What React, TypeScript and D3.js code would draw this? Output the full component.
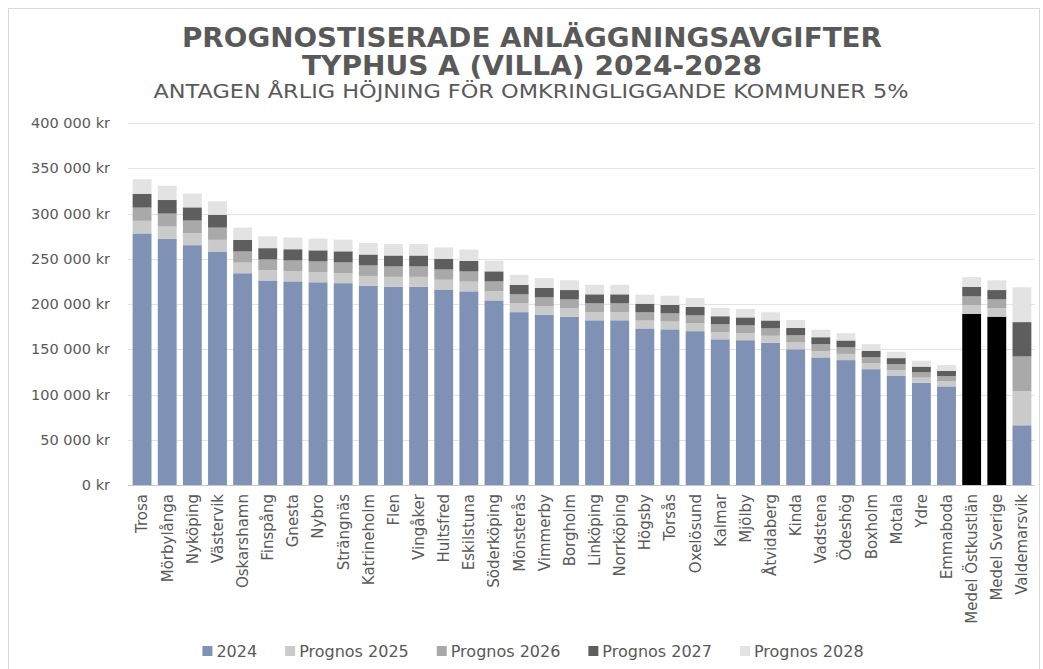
import React, { useEffect, useRef } from 'react';
import * as d3 from 'd3';

// Kommuner, sorted as in the source chart
const categories = [
  'Trosa', 'Mörbylånga', 'Nyköping', 'Västervik', 'Oskarshamn', 'Finspång', 'Gnesta', 'Nybro',
  'Strängnäs', 'Katrineholm', 'Flen', 'Vingåker', 'Hultsfred', 'Eskilstuna', 'Söderköping',
  'Mönsterås', 'Vimmerby', 'Borgholm', 'Linköping', 'Norrköping', 'Högsby', 'Torsås', 'Oxelösund',
  'Kalmar', 'Mjölby', 'Åtvidaberg', 'Kinda', 'Vadstena', 'Ödeshög', 'Boxholm', 'Motala', 'Ydre',
  'Emmaboda', 'Medel Östkustlän', 'Medel Sverige', 'Valdemarsvik'
];

const averageCategories = ['Medel Östkustlän', 'Medel Sverige'];

// stacked segment values (kr)
const values2024 = [
  278000, 272000, 265000, 258000, 234000, 226000, 225000, 224000,
  223000, 220000, 219000, 219000, 216000, 214000, 204000,
  191000, 188000, 186000, 182000, 182000, 173000, 172000, 170000,
  161000, 160000, 157000, 150000, 141000, 138000, 128000, 121000, 113000,
  109000, 189000, 186000, 66000
];
const prognos2025 = [
  13900, 13600, 13300, 12900, 11700, 11300, 11300, 11200,
  11200, 11000, 11000, 11000, 10800, 10700, 10200,
  9600, 9400, 9300, 9100, 9100, 8700, 8600, 8500,
  8100, 8000, 7900, 7500, 7100, 6900, 6400, 6100, 5700,
  5500, 9500, 9300, 37500
];
const prognos2026 = [
  14600, 14300, 13900, 13500, 12300, 11900, 11800, 11800,
  11700, 11600, 11500, 11500, 11300, 11200, 10700,
  10000, 9900, 9800, 9600, 9600, 9100, 9000, 8900,
  8500, 8400, 8200, 7900, 7400, 7200, 6700, 6400, 5900,
  5700, 9900, 9800, 38500
];
const prognos2027 = [
  15300, 15000, 14600, 14200, 12900, 12500, 12400, 12300,
  12300, 12100, 12100, 12100, 11900, 11800, 11200,
  10500, 10400, 10300, 10000, 10000, 9500, 9500, 9400,
  8900, 8800, 8700, 8300, 7800, 7600, 7100, 6700, 6200,
  6000, 10400, 10300, 38000
];
const prognos2028 = [
  16100, 15700, 15300, 14900, 13500, 13100, 13000, 13000,
  12900, 12700, 12700, 12700, 12500, 12400, 11800,
  11100, 10900, 10800, 10500, 10500, 10000, 10000, 9800,
  9300, 9300, 9100, 8700, 8200, 8000, 7400, 7000, 6500,
  6300, 10900, 10800, 38500
];

const seriesNames = ['2024', 'Prognos 2025', 'Prognos 2026', 'Prognos 2027', 'Prognos 2028'];
const seriesColors = ['#7F92B6', '#CACACA', '#A9A9A9', '#5E5E5E', '#E3E3E3'];
const averageColor = '#000000';

const yTicks = [0, 50000, 100000, 150000, 200000, 250000, 300000, 350000, 400000];

const titleLines = ['PROGNOSTISERADE ANLÄGGNINGSAVGIFTER', 'TYPHUS A (VILLA) 2024-2028'];
const subtitle = 'ANTAGEN ÅRLIG HÖJNING FÖR OMKRINGLIGGANDE KOMMUNER 5%';

const W = 1043;
const H = 669;
const FONT = "'DejaVu Sans', Verdana, sans-serif";
const TEXT = '#595959';

const formatKr = (v: number) => d3.format(',')(v).replace(/,/g, ' ') + ' kr';

export default function App() {
  const svgRef = useRef<SVGSVGElement>(null);

  useEffect(() => {
    const svg = d3.select(svgRef.current);
    svg.selectAll('*').remove();

    const rows = categories.map((c, i) => ({
      category: c,
      '2024': values2024[i],
      'Prognos 2025': prognos2025[i],
      'Prognos 2026': prognos2026[i],
      'Prognos 2027': prognos2027[i],
      'Prognos 2028': prognos2028[i]
    }));

    const stacked = d3.stack<any>().keys(seriesNames)(rows);

    const x = d3.scaleBand()
      .domain(categories)
      .range([129.5, 1034.5])
      .paddingInner(0.25)
      .paddingOuter(0.125);

    const y = d3.scaleLinear().domain([0, 400000]).range([485, 123]);

    svg.append('rect')
      .attr('x', 0).attr('y', 0).attr('width', W).attr('height', H)
      .attr('fill', '#fff');

    // chart frame
    svg.append('rect')
      .attr('x', 8.5).attr('y', 8.5).attr('width', W - 12).attr('height', H)
      .attr('fill', 'none')
      .attr('stroke', '#D9D9D9');

    // titles
    const cx = 532;
    svg.append('text')
      .attr('x', cx).attr('y', 47)
      .attr('text-anchor', 'middle')
      .attr('font-weight', 'bold')
      .attr('font-size', 27)
      .attr('fill', TEXT)
      .attr('textLength', 700)
      .attr('lengthAdjust', 'spacingAndGlyphs')
      .text(titleLines[0]);
    svg.append('text')
      .attr('x', cx).attr('y', 75)
      .attr('text-anchor', 'middle')
      .attr('font-weight', 'bold')
      .attr('font-size', 27)
      .attr('fill', TEXT)
      .attr('textLength', 460)
      .attr('lengthAdjust', 'spacingAndGlyphs')
      .text(titleLines[1]);
    svg.append('text')
      .attr('x', cx - 1).attr('y', 98)
      .attr('text-anchor', 'middle')
      .attr('font-size', 19)
      .attr('fill', TEXT)
      .attr('textLength', 755)
      .attr('lengthAdjust', 'spacingAndGlyphs')
      .text(subtitle);

    // gridlines
    svg.append('g')
      .selectAll('line')
      .data(yTicks.filter(t => t > 0))
      .join('line')
      .attr('x1', 128).attr('x2', 1035)
      .attr('y1', d => Math.round(y(d)) + 0.5)
      .attr('y2', d => Math.round(y(d)) + 0.5)
      .attr('stroke', '#E3E3E3')
      .attr('stroke-width', 1.2);

    // y labels
    svg.append('g')
      .selectAll('text')
      .data(yTicks)
      .join('text')
      .attr('x', 110)
      .attr('y', d => y(d))
      .attr('dy', '0.36em')
      .attr('text-anchor', 'end')
      .attr('font-size', 14.5)
      .attr('fill', TEXT)
      .text(d => formatKr(d));

    // bars
    const layers = svg.append('g')
      .selectAll('g')
      .data(stacked)
      .join('g');

    layers.selectAll('rect')
      .data((layer: any) => layer.map((d: any) => ({ d, key: layer.key })))
      .join('rect')
      .attr('x', (p: any) => x(p.d.data.category)!)
      .attr('width', x.bandwidth())
      .attr('y', (p: any) => y(p.d[1]))
      .attr('height', (p: any) => y(p.d[0]) - y(p.d[1]))
      .attr('fill', (p: any) => {
        if (p.key === '2024' && averageCategories.includes(p.d.data.category)) return averageColor;
        return seriesColors[seriesNames.indexOf(p.key)];
      });

    // x axis line
    svg.append('line')
      .attr('x1', 128).attr('x2', 1035)
      .attr('y1', 485.5).attr('y2', 485.5)
      .attr('stroke', '#C8C8C8')
      .attr('stroke-width', 1.2);

    // x labels
    svg.append('g')
      .selectAll('text')
      .data(categories)
      .join('text')
      .attr('transform', d => `translate(${x(d)! + x.bandwidth() / 2},494) rotate(-90)`)
      .attr('dy', '0.36em')
      .attr('text-anchor', 'end')
      .attr('font-size', 15)
      .attr('fill', TEXT)
      .text(d => d);

    // legend
    const legend = svg.append('g');
    const gap = 28;
    let offset = 0;
    seriesNames.forEach((name, i) => {
      const item = legend.append('g').attr('transform', `translate(${offset},0)`);
      item.append('rect')
        .attr('x', 0).attr('y', -5)
        .attr('width', 10).attr('height', 10)
        .attr('fill', seriesColors[i]);
      const t = item.append('text')
        .attr('x', 14)
        .attr('dy', '0.36em')
        .attr('font-size', 16)
        .attr('fill', TEXT)
        .text(name);
      const w = (t.node() as SVGTextElement).getComputedTextLength();
      offset += 14 + w + gap;
    });
    const total = offset - gap;
    legend.attr('transform', `translate(${533 - total / 2},651)`);
  }, []);

  return (
    <svg
      ref={svgRef}
      width={W}
      height={H}
      style={{ position: 'absolute', left: 0, top: 0, fontFamily: FONT, display: 'block' }}
    />
  );
}
